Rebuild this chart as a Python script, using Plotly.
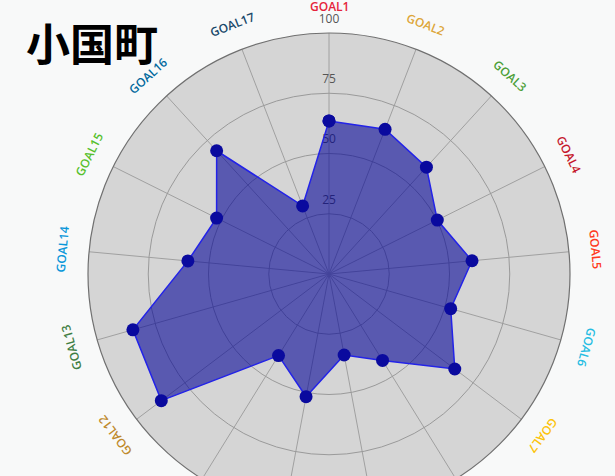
import math
import plotly.graph_objects as go

# ---- data ----
goals = [f"GOAL{i}" for i in range(1, 18)]
values = [63.5, 64.4, 60.0, 50.2, 59.6, 52.5, 65.4, 42.2, 34.2, 51.8, 39.8, 87.2, 84.6, 58.8, 52.1, 69.2, 30.3]
goal_colors = ["#E5243B", "#DDA63A", "#4C9F38", "#C5192D", "#FF3A21", "#26BDE2", "#FCC30B",
               "#A21942", "#FD6925", "#DD1367", "#FD9D24", "#BF8B2E", "#3F7E44", "#0A97D9",
               "#56C02B", "#00689D", "#19486A"]
radial_ticks = [25, 50, 75, 100]
radial_tick_labels = ["25", "50", "75", "100"]
title_text = "小国町"

# ---- layout geometry (pixels) ----
W, H = 615, 516
CX, CY, R = 329, 274, 241
LABEL_R = 268

fig = go.Figure()

# radial tick labels (drawn first so the filled area covers them)
fig.add_trace(go.Scatterpolar(
    r=radial_ticks, theta=[goals[0]] * len(radial_ticks),
    mode="markers+text", text=radial_tick_labels, textposition="top center",
    marker=dict(size=10, opacity=0), cliponaxis=False,
    textfont=dict(family="Open Sans", size=12, color="#555555"),
    hoverinfo="skip", showlegend=False,
))

fig.add_trace(go.Scatterpolar(
    r=values + [values[0]], theta=goals + [goals[0]],
    mode="lines+markers", fill="toself",
    fillcolor="rgba(0,0,150,0.58)",
    line=dict(color="#2323e8", width=1.5),
    marker=dict(color="#0a0a9e", size=13),
    showlegend=False,
))

n = len(goals)
annotations = []
for i, (g, c) in enumerate(zip(goals, goal_colors)):
    th = i * 360.0 / n
    x = (CX + LABEL_R * math.sin(math.radians(th))) / W
    y = (H - (CY - LABEL_R * math.cos(math.radians(th)))) / H
    ang = th if th <= 180 else th - 360
    annotations.append(dict(
        x=x, y=y, xref="paper", yref="paper", text=g, showarrow=False,
        textangle=ang, xanchor="center", yanchor="middle",
        font=dict(family="Open Sans", size=12, color=c, weight=600),
    ))

annotations.append(dict(
    x=24 / W, y=(H - 42) / H, xref="paper", yref="paper", text=title_text,
    showarrow=False, xanchor="left", yanchor="middle",
    font=dict(family="Noto Sans CJK JP", size=44, color="#000000", weight="bold"),
))

fig.update_layout(
    width=W, height=H,
    margin=dict(l=0, r=0, t=0, b=0),
    paper_bgcolor="#f8f9f9",
    polar=dict(
        domain=dict(x=[(CX - R) / W, (CX + R) / W], y=[(H - CY - R) / H, (H - CY + R) / H]),
        bgcolor="#d5d5d5",
        radialaxis=dict(range=[0, 100], tickvals=radial_ticks, showticklabels=False,
                        showline=False, ticks="", gridcolor="#9a9a9a", gridwidth=1, angle=90),
        angularaxis=dict(type="category", categoryarray=goals, rotation=90, direction="clockwise",
                         showticklabels=False, ticks="", gridcolor="#a0a0a0", gridwidth=1,
                         showline=True, linecolor="#707070", linewidth=1.2),
    ),
    annotations=annotations,
)

fig.write_html("out.html",
               post_script="document.documentElement.style.overflow='hidden';document.body.style.overflow='hidden';")
